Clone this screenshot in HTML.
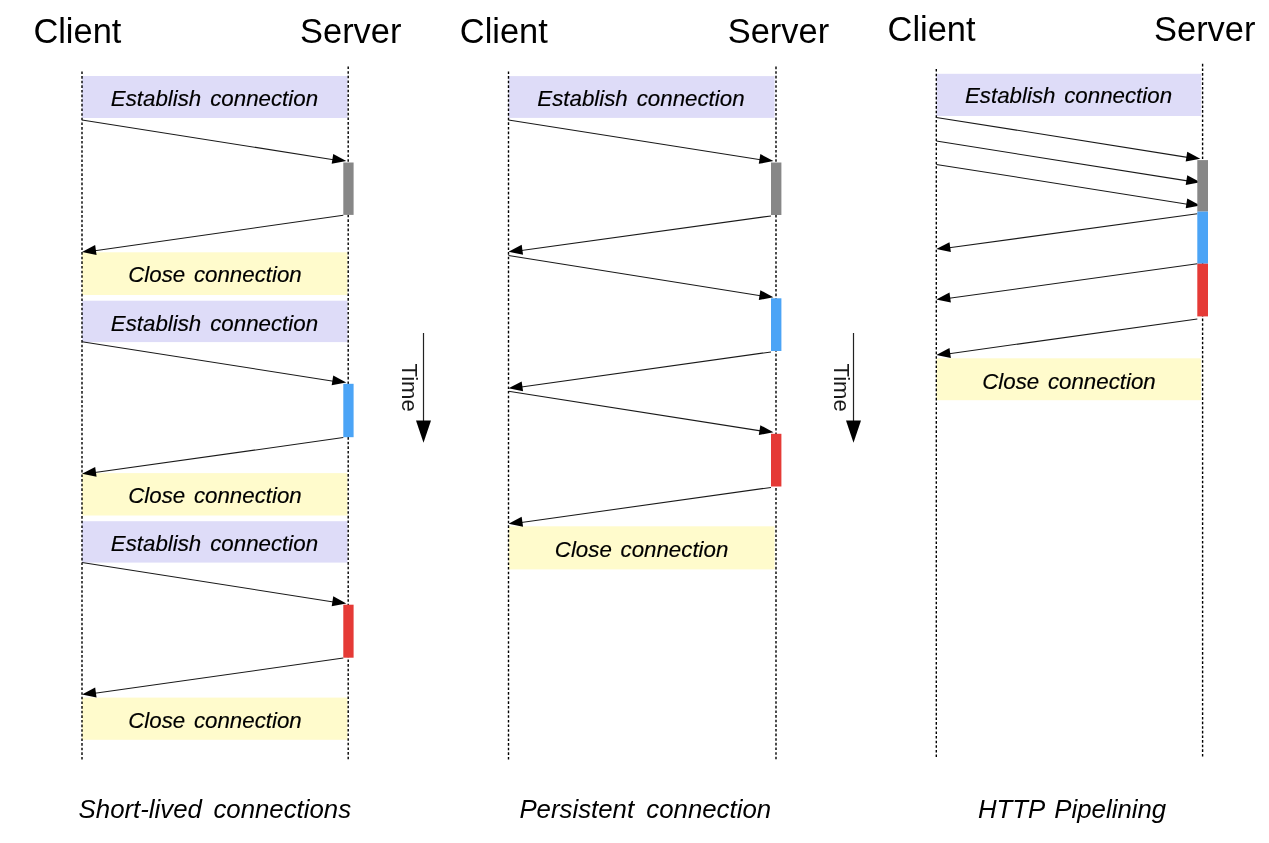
<!DOCTYPE html>
<html><head><meta charset="utf-8"><style>
html,body{margin:0;padding:0;background:#fff;}
svg{display:block;will-change:transform;}
text{font-family:"Liberation Sans",sans-serif;fill:#000;}
text.lb{stroke:#000;stroke-width:0.15px;}
</style></head><body>
<svg width="1269" height="843" viewBox="0 0 1269 843">
<rect width="1269" height="843" fill="#fff"/>
<rect x="82.00" y="76.00" width="265.50" height="42.00" fill="#dedcf8"/>
<rect x="82.00" y="252.30" width="265.50" height="42.70" fill="#fffbcc"/>
<rect x="82.00" y="300.70" width="265.50" height="41.40" fill="#dedcf8"/>
<rect x="82.00" y="473.10" width="265.50" height="42.40" fill="#fffbcc"/>
<rect x="82.00" y="521.20" width="265.50" height="41.40" fill="#dedcf8"/>
<rect x="82.00" y="697.60" width="265.50" height="42.20" fill="#fffbcc"/>
<rect x="508.50" y="76.10" width="266.10" height="41.80" fill="#dedcf8"/>
<rect x="508.50" y="526.30" width="266.10" height="43.10" fill="#fffbcc"/>
<rect x="936.30" y="73.80" width="264.90" height="42.20" fill="#dedcf8"/>
<rect x="936.30" y="358.30" width="264.90" height="41.90" fill="#fffbcc"/>
<line x1="82.0" y1="71.45" x2="82.0" y2="759.5" stroke="#000" stroke-width="1.4" stroke-dasharray="2.6 2.032"/>
<line x1="348.2" y1="66.5" x2="348.2" y2="759.2" stroke="#000" stroke-width="1.4" stroke-dasharray="2.6 2.032"/>
<line x1="508.5" y1="71.4" x2="508.5" y2="759.5" stroke="#000" stroke-width="1.4" stroke-dasharray="2.6 2.032"/>
<line x1="776.0" y1="66.6" x2="776.0" y2="759.2" stroke="#000" stroke-width="1.4" stroke-dasharray="2.6 2.032"/>
<line x1="936.3" y1="69.0" x2="936.3" y2="757.0" stroke="#000" stroke-width="1.4" stroke-dasharray="2.6 2.032"/>
<line x1="1202.6" y1="63.8" x2="1202.6" y2="756.7" stroke="#000" stroke-width="1.4" stroke-dasharray="2.6 2.032"/>
<line x1="82.00" y1="119.90" x2="333.46" y2="159.67" stroke="#1a1a1a" stroke-width="1.05"/>
<polygon points="346.30,161.10 331.69,163.85 333.25,153.97" fill="#000"/>
<line x1="343.30" y1="215.30" x2="94.87" y2="250.76" stroke="#1a1a1a" stroke-width="1.05"/>
<polygon points="82.00,252.00 95.15,245.07 96.57,254.97" fill="#000"/>
<line x1="82.00" y1="341.80" x2="333.46" y2="381.19" stroke="#1a1a1a" stroke-width="1.05"/>
<polygon points="346.30,382.60 331.69,385.37 333.24,375.49" fill="#000"/>
<line x1="343.30" y1="437.60" x2="94.87" y2="472.59" stroke="#1a1a1a" stroke-width="1.05"/>
<polygon points="82.00,473.80 95.17,466.90 96.56,476.80" fill="#000"/>
<line x1="82.00" y1="562.40" x2="333.46" y2="601.98" stroke="#1a1a1a" stroke-width="1.05"/>
<polygon points="346.30,603.40 331.69,606.16 333.25,596.28" fill="#000"/>
<line x1="343.30" y1="658.10" x2="94.87" y2="693.18" stroke="#1a1a1a" stroke-width="1.05"/>
<polygon points="82.00,694.40 95.16,687.49 96.56,697.39" fill="#000"/>
<line x1="508.50" y1="119.90" x2="760.56" y2="159.67" stroke="#1a1a1a" stroke-width="1.05"/>
<polygon points="773.40,161.10 758.79,163.86 760.35,153.98" fill="#000"/>
<line x1="771.00" y1="215.90" x2="521.38" y2="250.51" stroke="#1a1a1a" stroke-width="1.05"/>
<polygon points="508.50,251.70 521.68,244.82 523.05,254.73" fill="#000"/>
<line x1="508.50" y1="255.50" x2="760.56" y2="295.85" stroke="#1a1a1a" stroke-width="1.05"/>
<polygon points="773.40,297.30 758.79,300.02 760.37,290.15" fill="#000"/>
<line x1="771.00" y1="351.90" x2="521.37" y2="387.09" stroke="#1a1a1a" stroke-width="1.05"/>
<polygon points="508.50,388.30 521.67,381.39 523.06,391.30" fill="#000"/>
<line x1="508.50" y1="391.20" x2="760.56" y2="430.88" stroke="#1a1a1a" stroke-width="1.05"/>
<polygon points="773.40,432.30 758.79,435.06 760.35,425.18" fill="#000"/>
<line x1="771.00" y1="487.40" x2="521.37" y2="522.49" stroke="#1a1a1a" stroke-width="1.05"/>
<polygon points="508.50,523.70 521.67,516.80 523.06,526.70" fill="#000"/>
<line x1="936.30" y1="117.40" x2="1187.46" y2="157.36" stroke="#1a1a1a" stroke-width="1.05"/>
<polygon points="1200.30,158.80 1185.69,161.54 1187.26,151.66" fill="#000"/>
<line x1="936.30" y1="141.10" x2="1187.46" y2="180.87" stroke="#1a1a1a" stroke-width="1.05"/>
<polygon points="1200.30,182.30 1185.69,185.05 1187.25,175.17" fill="#000"/>
<line x1="936.30" y1="164.40" x2="1187.46" y2="204.17" stroke="#1a1a1a" stroke-width="1.05"/>
<polygon points="1200.30,205.60 1185.69,208.35 1187.25,198.47" fill="#000"/>
<line x1="1197.30" y1="213.70" x2="949.18" y2="247.83" stroke="#1a1a1a" stroke-width="1.05"/>
<polygon points="936.30,249.00 949.49,242.14 950.85,252.05" fill="#000"/>
<line x1="1197.30" y1="263.80" x2="949.18" y2="298.31" stroke="#1a1a1a" stroke-width="1.05"/>
<polygon points="936.30,299.50 949.48,292.62 950.86,302.52" fill="#000"/>
<line x1="1197.30" y1="319.00" x2="949.17" y2="353.70" stroke="#1a1a1a" stroke-width="1.05"/>
<polygon points="936.30,354.90 949.47,348.01 950.86,357.91" fill="#000"/>
<line x1="423.5" y1="333" x2="423.5" y2="421" stroke="#222" stroke-width="1.2"/>
<polygon points="416.0,420.4 431.0,420.4 423.5,442.8" fill="#000"/>
<line x1="853.5" y1="333" x2="853.5" y2="421" stroke="#222" stroke-width="1.2"/>
<polygon points="846.0,420.4 861.0,420.4 853.5,442.8" fill="#000"/>
<rect x="343.30" y="162.50" width="10.30" height="52.40" fill="#878787"/>
<rect x="343.30" y="383.80" width="10.30" height="53.40" fill="#4ba4f6"/>
<rect x="343.30" y="604.70" width="10.30" height="53.00" fill="#e53a36"/>
<rect x="771.00" y="162.50" width="10.40" height="52.50" fill="#878787"/>
<rect x="771.00" y="298.30" width="10.40" height="52.70" fill="#4ba4f6"/>
<rect x="771.00" y="433.80" width="10.40" height="52.70" fill="#e53a36"/>
<rect x="1197.30" y="160.10" width="10.70" height="51.50" fill="#878787"/>
<rect x="1197.30" y="211.60" width="10.70" height="52.10" fill="#4ba4f6"/>
<rect x="1197.30" y="263.70" width="10.70" height="52.70" fill="#e53a36"/>
<text x="33.40" y="43.00" font-size="34.4">Client</text>
<text x="300.10" y="43.00" font-size="34.4">Server</text>
<text x="110.80" y="105.80" font-size="22.3" font-style="italic" class="lb">Establish</text>
<text x="210.20" y="105.80" font-size="22.3" font-style="italic" class="lb">connection</text>
<text x="128.20" y="282.20" font-size="22.3" font-style="italic" class="lb">Close</text>
<text x="193.90" y="282.20" font-size="22.3" font-style="italic" class="lb">connection</text>
<text x="110.80" y="330.50" font-size="22.3" font-style="italic" class="lb">Establish</text>
<text x="210.20" y="330.50" font-size="22.3" font-style="italic" class="lb">connection</text>
<text x="128.20" y="503.00" font-size="22.3" font-style="italic" class="lb">Close</text>
<text x="193.90" y="503.00" font-size="22.3" font-style="italic" class="lb">connection</text>
<text x="110.80" y="551.00" font-size="22.3" font-style="italic" class="lb">Establish</text>
<text x="210.20" y="551.00" font-size="22.3" font-style="italic" class="lb">connection</text>
<text x="128.20" y="727.50" font-size="22.3" font-style="italic" class="lb">Close</text>
<text x="193.90" y="727.50" font-size="22.3" font-style="italic" class="lb">connection</text>
<text x="78.60" y="817.80" font-size="25.8" font-style="italic">Short-lived</text>
<text x="213.40" y="817.80" font-size="25.8" font-style="italic">connections</text>
<text x="459.80" y="43.00" font-size="34.4">Client</text>
<text x="727.80" y="43.00" font-size="34.4">Server</text>
<text x="537.30" y="105.70" font-size="22.3" font-style="italic" class="lb">Establish</text>
<text x="636.70" y="105.70" font-size="22.3" font-style="italic" class="lb">connection</text>
<text x="554.80" y="556.60" font-size="22.3" font-style="italic" class="lb">Close</text>
<text x="620.50" y="556.60" font-size="22.3" font-style="italic" class="lb">connection</text>
<text x="519.40" y="817.80" font-size="25.8" font-style="italic">Persistent</text>
<text x="646.30" y="817.80" font-size="25.8" font-style="italic">connection</text>
<text x="887.60" y="40.60" font-size="34.4">Client</text>
<text x="1154.10" y="40.60" font-size="34.4">Server</text>
<text x="965.00" y="103.20" font-size="22.3" font-style="italic" class="lb">Establish</text>
<text x="1064.20" y="103.20" font-size="22.3" font-style="italic" class="lb">connection</text>
<text x="982.20" y="388.80" font-size="22.3" font-style="italic" class="lb">Close</text>
<text x="1047.90" y="388.80" font-size="22.3" font-style="italic" class="lb">connection</text>
<text x="977.90" y="817.80" font-size="25.8" font-style="italic">HTTP</text>
<text x="1054.30" y="817.80" font-size="25.8" font-style="italic">Pipelining</text>
<text transform="translate(402.2,363.6) rotate(90)" font-size="22.0" style="fill:#1a1a1a">Time</text>
<text transform="translate(833.9,363.6) rotate(90)" font-size="22.0" style="fill:#1a1a1a">Time</text>
</svg></body></html>
